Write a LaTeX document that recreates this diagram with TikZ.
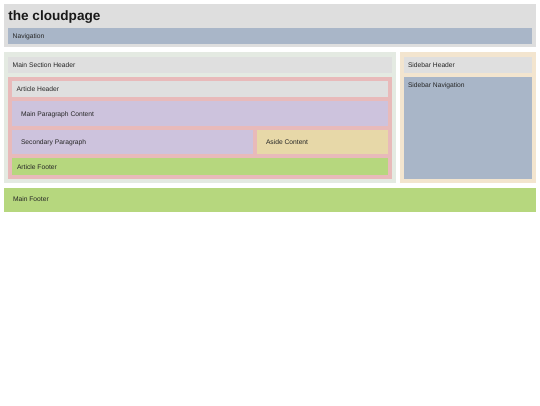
\documentclass[tikz,border=0pt]{standalone}
\usepackage{fontspec}
\setmainfont{Liberation Sans}
\definecolor{hdrgray}{HTML}{DEDEDE}
\definecolor{navblue}{HTML}{A9B6C8}
\definecolor{mainbg}{HTML}{E4EAE2}
\definecolor{artpink}{HTML}{E8BABA}
\definecolor{lav}{HTML}{CDC3DD}
\definecolor{asidetan}{HTML}{E7D8A8}
\definecolor{grn}{HTML}{B6D77E}
\definecolor{sidebg}{HTML}{F3E5CF}
\definecolor{inhdr}{HTML}{DFDFDF}
\tikzset{
  box/.style={anchor=north west, inner sep=0pt, outer sep=0pt, draw=none},
  lbl/.style={anchor=base west, inner sep=0pt, outer sep=0pt, font=\fontsize{6.7}{8}\selectfont, text=black!85},
  ttl/.style={anchor=base west, inner sep=0pt, outer sep=0pt, font=\fontsize{13.6}{16}\selectfont\bfseries, text=black!90}
}
\newcommand{\bx}[6]{\node[box, fill=#2, minimum width={(#5-#3)*1pt}, minimum height={(#6-#4)*1pt}] (#1) at (#3,#4) {};}
\begin{document}
\begin{tikzpicture}[x=1pt,y=-1pt]
\useasboundingbox[fill=white] (0,0) rectangle (540,405);
% header
\bx{header}{hdrgray}{4}{4}{536}{47}
\bx{nav}{navblue}{8}{28}{532}{44}
% main section
\bx{mainsec}{mainbg}{4}{52}{396}{183}
\bx{mainhdr}{inhdr}{8}{57}{392}{73}
\bx{article}{artpink}{8}{77}{392}{179}
\bx{arthdr}{inhdr}{12}{81}{388}{97}
\bx{mainpar}{lav}{12}{101}{388}{126}
\bx{secpar}{lav}{12}{130}{253}{154}
\bx{aside}{asidetan}{257}{130}{388}{154}
\bx{artfoot}{grn}{12}{158}{388}{175}
% sidebar
\bx{sidebar}{sidebg}{400}{52}{536}{183}
\bx{sidehdr}{inhdr}{404}{57}{532}{73}
\bx{sidenav}{navblue}{404}{77}{532}{179}
% footer
\bx{mainfoot}{grn}{4}{188}{536}{212}
% texts
\node[ttl] (tTitle) at (8.3,20.2) {the cloudpage};
\node[lbl] (tNav) at (12.7,38.2) {Navigation};
\node[lbl] (tMainHdr) at (12.7,67.2) {Main Section Header};
\node[lbl] (tArtHdr) at (16.7,91.4) {Article Header};
\node[lbl] (tMainPar) at (21,116.2) {Main Paragraph Content};
\node[lbl] (tSecPar) at (21,144.4) {Secondary Paragraph};
\node[lbl] (tAside) at (266,144.4) {Aside Content};
\node[lbl] (tArtFoot) at (17,169) {Article Footer};
\node[lbl] (tSideHdr) at (408,67.2) {Sidebar Header};
\node[lbl] (tSideNav) at (408,87.4) {Sidebar Navigation};
\node[lbl] (tMainFoot) at (13,201.6) {Main Footer};
\end{tikzpicture}
\end{document}
